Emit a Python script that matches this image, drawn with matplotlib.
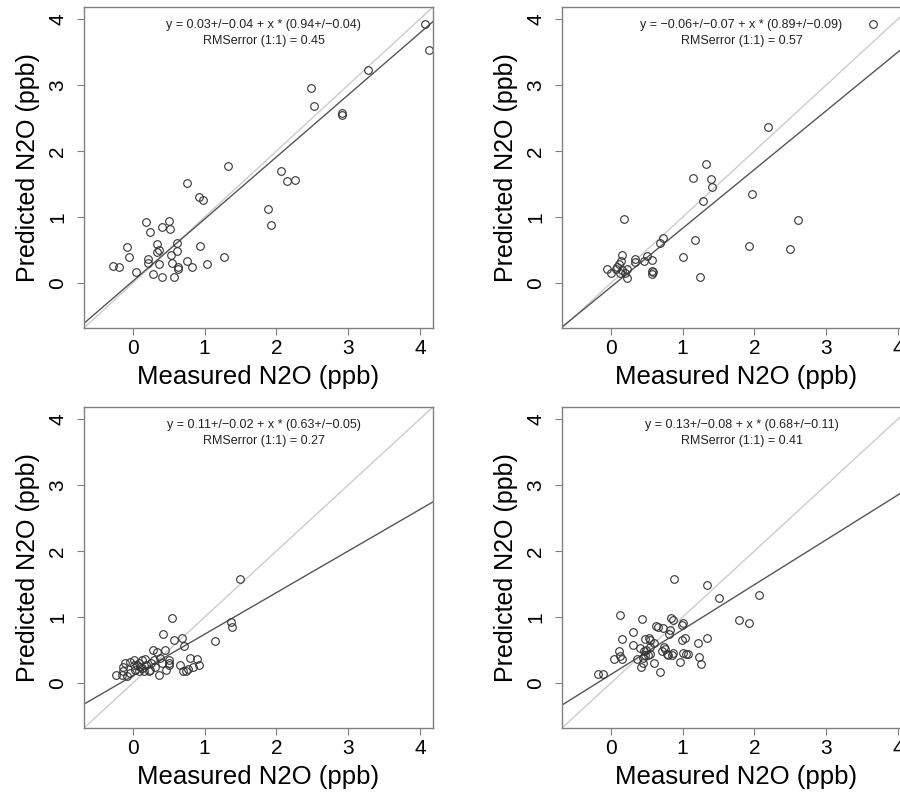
import matplotlib.pyplot as plt

plt.rcParams['font.family'] = ['Liberation Sans', 'DejaVu Sans']

# panel 1
x1 = [4.07, 4.13, 3.27, 2.48, 2.52, 2.91, 2.91, 1.33, 0.75, 0.92, 0.98, 2.07, 2.14, 2.26,
      1.88, 1.93, 0.18, 0.51, 0.24, 0.40, 0.52, -0.08, 0.34, 0.62, 0.93, 0.36, 0.33, 0.61,
      0.53, -0.05, 1.27, 0.21, 0.21, 0.36, 0.54, 0.75, 0.63, 0.63, 0.82, 1.03, -0.27, -0.19,
      0.04, 0.28, 0.40, 0.58]
y1 = [3.92, 3.53, 3.22, 2.95, 2.68, 2.57, 2.54, 1.78, 1.52, 1.31, 1.26, 1.70, 1.55, 1.56,
      1.12, 0.88, 0.92, 0.94, 0.77, 0.85, 0.82, 0.55, 0.59, 0.61, 0.56, 0.50, 0.47, 0.49,
      0.43, 0.39, 0.39, 0.36, 0.30, 0.29, 0.30, 0.34, 0.25, 0.21, 0.25, 0.29, 0.26, 0.24,
      0.17, 0.14, 0.09, 0.09]

# panel 2
x2 = [3.65, 2.19, 1.33, 1.14, 1.40, 1.41, 1.96, 1.28, 0.19, 2.60, 0.72, 0.68, 1.17, 1.92,
      2.49, 1.01, 1.24, 0.16, 0.33, 0.33, 0.46, 0.51, 0.57, 0.58, 0.57, 0.59, -0.05, 0.00,
      0.07, 0.09, 0.11, 0.14, 0.13, 0.20, 0.22, 0.23, 0.16]
y2 = [3.92, 2.37, 1.81, 1.59, 1.57, 1.46, 1.35, 1.25, 0.97, 0.95, 0.69, 0.61, 0.65, 0.56,
      0.52, 0.39, 0.09, 0.42, 0.37, 0.32, 0.34, 0.41, 0.35, 0.19, 0.14, 0.17, 0.21, 0.15,
      0.22, 0.25, 0.29, 0.34, 0.16, 0.15, 0.21, 0.08, 0.20]

# panel 3
x3 = [1.49, 0.55, 0.42, 0.57, 0.68, 1.37, 1.38, 0.71, 1.15, 0.28, 0.33, 0.45, 0.80, 0.89,
      0.65, 0.92, 0.84, 0.77, 0.74, 0.70, 0.51, 0.51, 0.50, 0.38, 0.40, 0.46, 0.36,
      -0.23, -0.15, -0.13, -0.11, -0.04, 0.01, 0.03, 0.08, 0.10, 0.13, 0.17, 0.19, 0.22,
      0.24, 0.29, 0.31, 0.08, -0.04, -0.08, 0.15, -0.13, 0.01, 0.06, 0.13, 0.25]
y3 = [1.57, 0.99, 0.75, 0.65, 0.68, 0.93, 0.85, 0.56, 0.63, 0.50, 0.47, 0.50, 0.38, 0.37,
      0.27, 0.27, 0.25, 0.22, 0.19, 0.18, 0.35, 0.30, 0.27, 0.38, 0.30, 0.20, 0.13,
      0.12, 0.13, 0.19, 0.31, 0.32, 0.27, 0.20, 0.30, 0.25, 0.35, 0.36, 0.27, 0.18,
      0.20, 0.35, 0.25, 0.18, 0.15, 0.11, 0.19, 0.25, 0.35, 0.28, 0.23, 0.30]

# panel 4
x4 = [0.88, 1.34, 1.51, 2.07, 1.79, 1.92, 0.13, 0.43, 0.84, 0.87, 1.00, 0.99, 0.63, 0.66,
      0.73, 0.83, 0.81, 0.31, 0.16, 0.31, 0.47, 0.53, 0.54, 0.60, 0.99, 1.03, 1.21, 1.34,
      0.11, 0.13, 0.15, 0.04, -0.18, -0.11, 0.40, 0.46, 0.49, 0.47, 0.52, 0.54, 0.45, 0.37,
      0.42, 0.45, 0.60, 0.68, 0.71, 0.74, 0.75, 0.78, 0.80, 0.87, 0.85, 0.96, 1.00, 1.05,
      1.07, 1.23, 1.25, 0.54]
y4 = [1.57, 1.48, 1.29, 1.33, 0.96, 0.91, 1.03, 0.97, 0.99, 0.96, 0.91, 0.88, 0.87, 0.85,
      0.84, 0.81, 0.74, 0.77, 0.66, 0.58, 0.67, 0.68, 0.65, 0.61, 0.65, 0.68, 0.61, 0.68,
      0.48, 0.41, 0.36, 0.36, 0.14, 0.14, 0.53, 0.48, 0.50, 0.42, 0.43, 0.44, 0.38, 0.36,
      0.24, 0.30, 0.30, 0.17, 0.49, 0.54, 0.52, 0.44, 0.42, 0.45, 0.42, 0.32, 0.46, 0.44,
      0.44, 0.40, 0.29, 0.54]

# fit results
intercepts = [0.03, -0.06, 0.11, 0.13]
intercept_err = [0.04, 0.07, 0.02, 0.08]
slopes = [0.94, 0.89, 0.63, 0.68]
slope_err = [0.04, 0.09, 0.05, 0.11]
rmse = [0.45, 0.57, 0.27, 0.41]

panels = [(x1, y1), (x2, y2), (x3, y3), (x4, y4)]
positions = [(84, 7), (562, 7), (84, 407), (562, 407)]

W, H = 900, 792
fig = plt.figure(figsize=(9, 7.92), dpi=100)

lim = (-0.68, 4.18)
edge = '#808080'

for i, (xs, ys) in enumerate(panels):
    px, py = positions[i]
    ax = fig.add_axes([px / W, 1 - (py + 321) / H, 349 / W, 321 / H])
    ax.set_xlim(lim)
    ax.set_ylim(lim)

    # 1:1 line and fitted line
    ax.axline((0, 0), slope=1, color='#cccccc', lw=1)
    ax.axline((0, intercepts[i]), slope=slopes[i], color='#555555', lw=1)

    ax.plot(xs, ys, 'o', mfc='none', mec='#333333', ms=5.5, mew=0.8)

    sign = '\u2212' if intercepts[i] < 0 else ''
    line1 = 'y = %s%.2f+/\u2212%.2f + x * (%.2f+/\u2212%.2f)' % (
        sign, abs(intercepts[i]), intercept_err[i], slopes[i], slope_err[i])
    ax.text(1.82, 3.91, line1, ha='center', va='center', fontsize=9, color='#222222')
    ax.text(1.82, 3.67, 'RMSerror (1:1) = %.2f' % rmse[i], ha='center', va='center',
            fontsize=9, color='#222222')

    ax.set_xticks(range(5))
    ax.set_yticks(range(5))
    ax.tick_params(labelsize=15, length=5, color=edge)
    ax.tick_params(axis='x', pad=3)
    ax.tick_params(axis='y', pad=7)
    for lab in ax.get_yticklabels():
        lab.set_rotation(90)
        lab.set_va('center')
    for s in ax.spines.values():
        s.set_color(edge)
        s.set_linewidth(1)
    ax.set_xlabel('Measured N2O (ppb)', fontsize=18.5, labelpad=5)
    ax.set_ylabel('Predicted N2O (ppb)', fontsize=18, labelpad=6)

fig.savefig('out.png', dpi=100)
